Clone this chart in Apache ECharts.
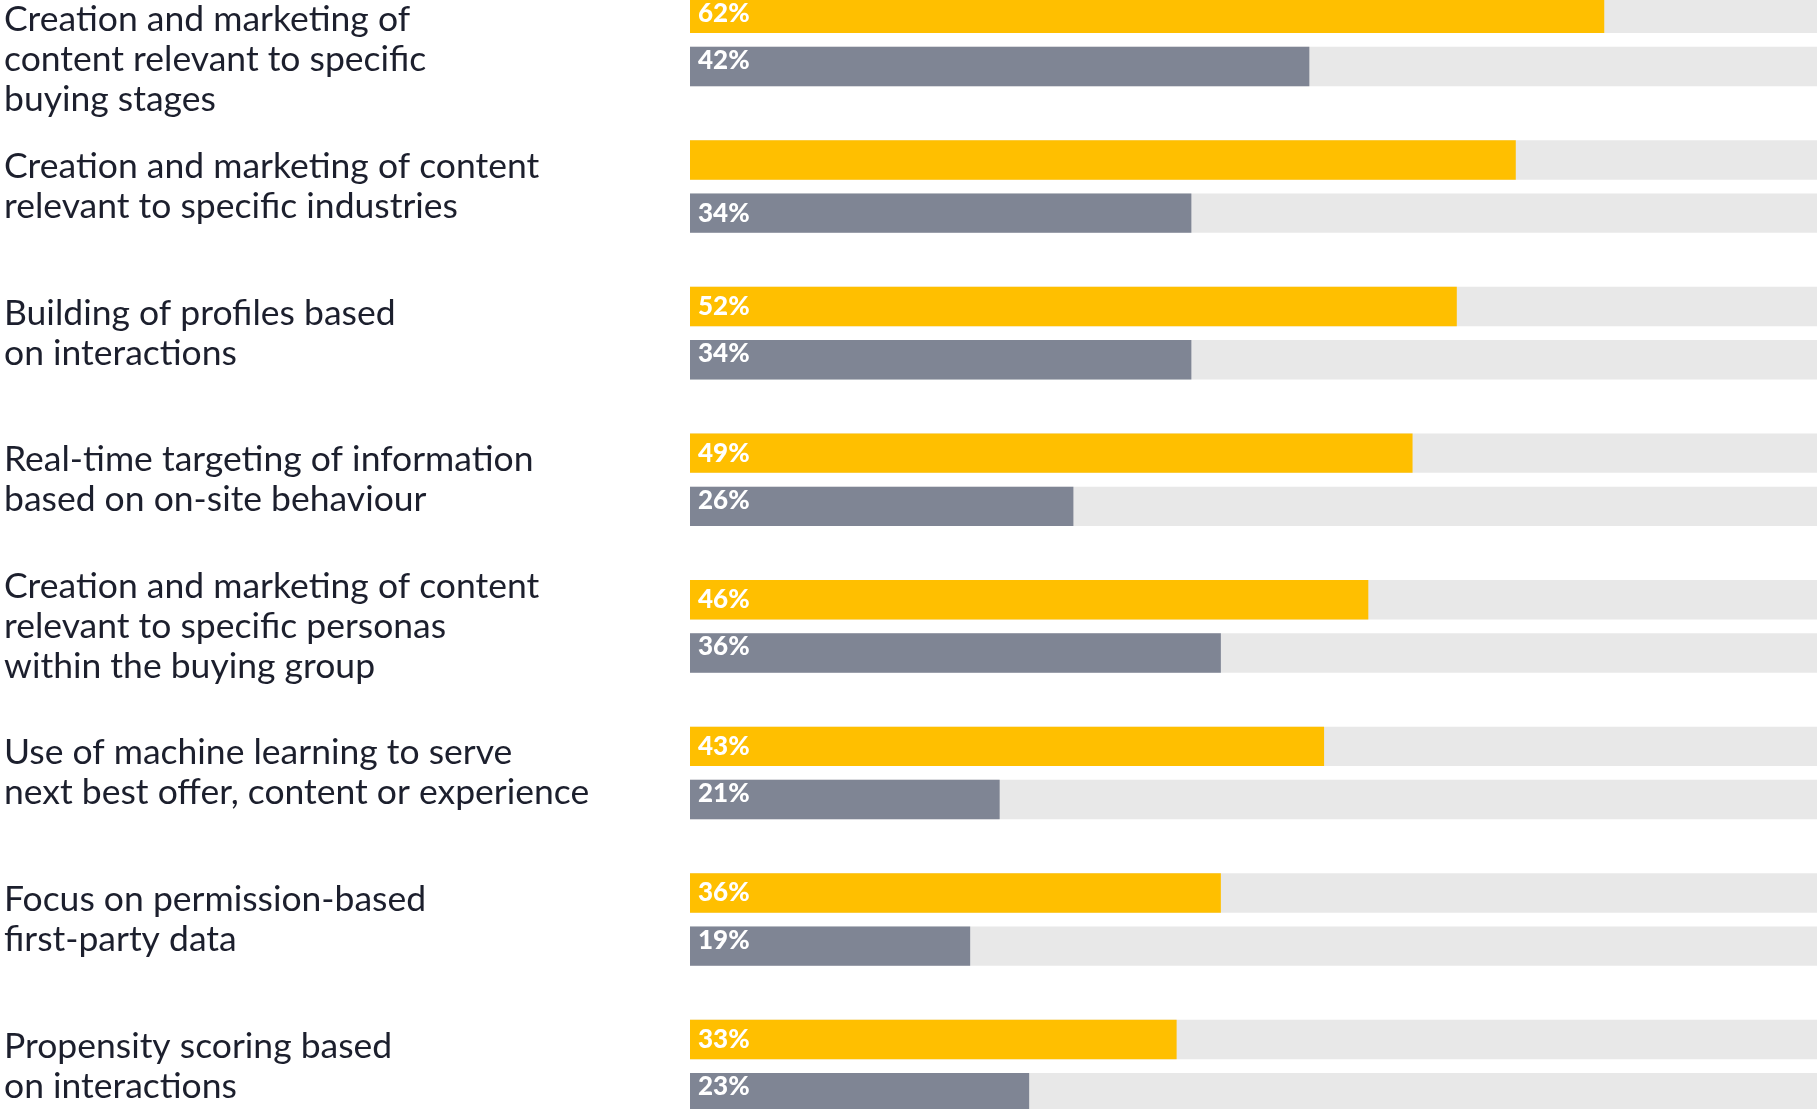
<!DOCTYPE html>
<html>
<head>
<meta charset="utf-8">
<script src="https://cdn.jsdelivr.net/npm/echarts@6/dist/echarts.min.js"></script>
<style>
html,body{margin:0;padding:0;background:#fff;}
#chart{width:1817px;height:1109px;}
</style>
</head>
<body>
<div id="chart"></div>
<script>
const categories = [
  'Creation and marketing of\ncontent relevant to specific\nbuying stages',
  'Creation and marketing of content\nrelevant to specific industries',
  'Building of profiles based\non interactions',
  'Real-time targeting of information\nbased on on-site behaviour',
  'Creation and marketing of content\nrelevant to specific personas\nwithin the buying group',
  'Use of machine learning to serve\nnext best offer, content or experience',
  'Focus on permission-based\nfirst-party data',
  'Propensity scoring based\non interactions'
];
const yellowValues = [62, 56, 52, 49, 46, 43, 36, 33];
const greyValues = [42, 34, 34, 26, 36, 21, 19, 23];
const yellowLabelHidden = [false, true, false, false, false, false, false, false];

const labelStyle = {
  show: true,
  position: 'insideLeft',
  offset: [3, 0],
  color: '#ffffff',
  fontFamily: 'Lato',
  fontWeight: 900,
  fontSize: 26,
  formatter: p => p.value + '%'
};

const chart = echarts.init(document.getElementById('chart'));
chart.setOption({
  animation: false,
  backgroundColor: '#ffffff',
  grid: { left: 690, top: -33.35, width: 1474.6, height: 1172.8, containLabel: false, outerBoundsMode: 'none' },
  xAxis: {
    type: 'value', min: 0, max: 100,
    show: false
  },
  yAxis: {
    type: 'category',
    inverse: true,
    data: categories,
    axisLine: { show: false },
    axisTick: { show: false },
    splitLine: { show: false },
    axisLabel: {
      margin: 686,
      align: 'left',
      color: '#1c1f2d',
      fontFamily: 'Lato',
      fontSize: 35.5,
      lineHeight: 40,
      formatter: (v, i) => (i === 0 ? '\n' + v : v)
    }
  },
  series: [
    {
      type: 'bar',
      data: yellowValues.map((v, i) => yellowLabelHidden[i] ? { value: v, label: { show: false } } : v),
      barWidth: 39.4,
      barGap: '35%',
      itemStyle: { color: '#ffbf00' },
      showBackground: true,
      backgroundStyle: { color: '#e8e8e8' },
      label: labelStyle
    },
    {
      type: 'bar',
      data: greyValues.map((v, i) => i === 1 ? { value: v, label: { offset: [3, 0] } } : v),
      barWidth: 39.4,
      barGap: '35%',
      itemStyle: { color: '#7f8594' },
      showBackground: true,
      backgroundStyle: { color: '#e8e8e8' },
      label: Object.assign({}, labelStyle, { offset: [3, -6] })
    }
  ]
});
</script>
</body>
</html>
